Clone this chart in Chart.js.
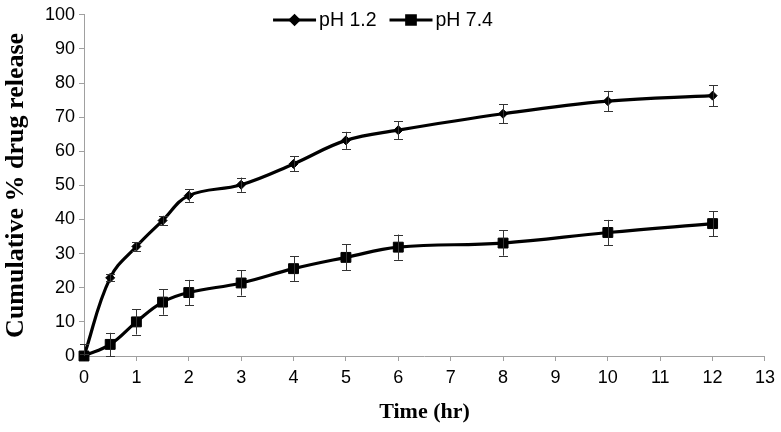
<!DOCTYPE html>
<html>
<head>
<meta charset="utf-8">
<script src="https://cdn.jsdelivr.net/npm/chart.js@4.4.1/dist/chart.umd.min.js"></script>
<style>
    html, body { margin: 0; padding: 0; background: #fff; }
    #wrap { width: 781px; height: 432px; }
</style>
</head>
<body>
<div id="wrap"><canvas id="releaseChart" width="781" height="432"></canvas></div>
<script>
// Release data
const timePoints = [0, 0.5, 1, 1.5, 2, 3, 4, 5, 6, 8, 10, 12];
const releasePh12 = [0, 22.9, 32.1, 39.7, 47.0, 50.2, 56.3, 63.2, 66.2, 71.0, 74.7, 76.3];
const errorPh12 = [0.5, 1.0, 1.3, 1.4, 1.8, 2.1, 2.2, 2.5, 2.6, 2.8, 3.0, 3.1];
const releasePh74 = [0, 3.4, 10.0, 15.8, 18.6, 21.4, 25.6, 28.9, 31.9, 33.1, 36.2, 38.8];
const errorPh74 = [3.4, 3.4, 3.7, 3.7, 3.7, 3.7, 3.6, 3.8, 3.7, 3.7, 3.7, 3.7];
const seriesLabels = ['pH 1.2', 'pH 7.4'];
const xRange = [0, 13];
const yRange = [0, 100];

const axisGrey = '#a0a0a0';
const tickFont = { family: 'Arial, "Liberation Sans", sans-serif', size: 18 };
const legendFontSize = 19.5;
const titleFont = { family: '"Times New Roman", "Liberation Serif", serif', weight: 'bold' };

function toPoints(xs, ys) {
    return xs.map((x, i) => ({ x: x, y: ys[i] }));
}

// Vertical error bars with caps, drawn through the scales
const errorBarPlugin = {
    id: 'errorBars',
    afterDatasetsDraw(chart) {
        const ctx = chart.ctx;
        const yScale = chart.scales.y;
        ctx.save();
        ctx.strokeStyle = '#333';
        ctx.lineWidth = 1;
        chart.data.datasets.forEach((ds, di) => {
            const meta = chart.getDatasetMeta(di);
            ds.errors.forEach((err, i) => {
                const pt = meta.data[i];
                const v = ds.data[i].y;
                const lo = Math.max(v - err, yRange[0]);
                const yTop = yScale.getPixelForValue(v + err);
                const yBot = yScale.getPixelForValue(lo);
                const x = Math.round(pt.x) + 0.5;
                ctx.beginPath();
                ctx.moveTo(x, yTop);
                ctx.lineTo(x, yBot);
                ctx.moveTo(x - 4.5, Math.round(yTop) + 0.5);
                ctx.lineTo(x + 4.5, Math.round(yTop) + 0.5);
                if (lo === v - err) {
                    ctx.moveTo(x - 4.5, Math.round(yBot) + 0.5);
                    ctx.lineTo(x + 4.5, Math.round(yBot) + 0.5);
                }
                ctx.stroke();
            });
        });
        ctx.restore();
    }
};

// Legend drawn over the top of the plot, line sample + marker + text
const overlayLegendPlugin = {
    id: 'overlayLegend',
    afterDraw(chart) {
        const ctx = chart.ctx;
        const lineLen = 43;
        const textGap = 3;
        const itemGap = 13;
        const cy = 20;
        ctx.save();
        ctx.font = `${legendFontSize}px ${tickFont.family}`;
        const widths = chart.data.datasets.map(ds => lineLen + textGap + ctx.measureText(ds.label).width);
        const total = widths.reduce((a, b) => a + b, 0) + itemGap * (widths.length - 1);
        let x = 383 - total / 2;
        chart.data.datasets.forEach((ds, i) => {
            ctx.strokeStyle = ds.borderColor;
            ctx.lineWidth = ds.borderWidth;
            ctx.beginPath();
            ctx.moveTo(x, cy);
            ctx.lineTo(x + lineLen, cy);
            ctx.stroke();
            Chart.helpers.drawPoint(ctx, {
                pointStyle: ds.pointStyle,
                radius: ds.legendRadius,
                borderWidth: 1,
                rotation: 0
            }, x + lineLen / 2, cy);
            ctx.fillStyle = '#000';
            ctx.textBaseline = 'middle';
            ctx.fillText(ds.label, x + lineLen + textGap, cy + 1);
            x += widths[i] + itemGap;
        });
        ctx.restore();
    }
};

const ctx = document.getElementById('releaseChart').getContext('2d');
const releaseChart = new Chart(ctx, {
    type: 'line',
    data: {
        datasets: [{
            label: seriesLabels[0],
            data: toPoints(timePoints, releasePh12),
            errors: errorPh12,
            borderColor: '#000',
            backgroundColor: '#000',
            borderWidth: 3.2,
            pointStyle: 'rectRot',
            pointRadius: 4.5,
            legendRadius: 4,
            pointBorderWidth: 1,
            tension: 0.4,
            clip: false
        }, {
            label: seriesLabels[1],
            data: toPoints(timePoints, releasePh74),
            errors: errorPh74,
            borderColor: '#000',
            backgroundColor: '#000',
            borderWidth: 3.2,
            pointStyle: 'rect',
            pointRadius: 7,
            legendRadius: 6,
            pointBorderWidth: 1,
            tension: 0.4,
            clip: false
        }]
    },
    options: {
        responsive: false,
        animation: false,
        devicePixelRatio: 1,
        layout: { padding: { left: 0, top: 12, right: 14, bottom: 0 } },
        plugins: {
            legend: { display: false },
            tooltip: { enabled: false }
        },
        scales: {
            x: {
                type: 'linear',
                min: xRange[0],
                max: xRange[1],
                ticks: { stepSize: 1, color: '#000', font: tickFont, padding: 6 },
                grid: { drawOnChartArea: false, tickLength: 5, color: axisGrey },
                border: { color: axisGrey, width: 1 },
                title: {
                    display: true,
                    text: 'Time (hr)',
                    color: '#000',
                    font: Object.assign({ size: 22 }, titleFont),
                    padding: { top: 0, bottom: 6 }
                },
                afterFit(scale) { scale.height = 76; }
            },
            y: {
                min: yRange[0],
                max: yRange[1],
                ticks: { stepSize: 10, color: '#000', font: tickFont, padding: 4 },
                grid: { drawOnChartArea: false, tickLength: 5, color: axisGrey },
                border: { color: axisGrey, width: 1 },
                title: {
                    display: true,
                    text: 'Cumulative % drug release',
                    color: '#000',
                    font: Object.assign({ size: 26 }, titleFont),
                    padding: { top: 1, bottom: 0 }
                },
                afterFit(scale) { scale.width = 84; }
            }
        }
    },
    plugins: [errorBarPlugin, overlayLegendPlugin]
});
</script>
</body>
</html>
